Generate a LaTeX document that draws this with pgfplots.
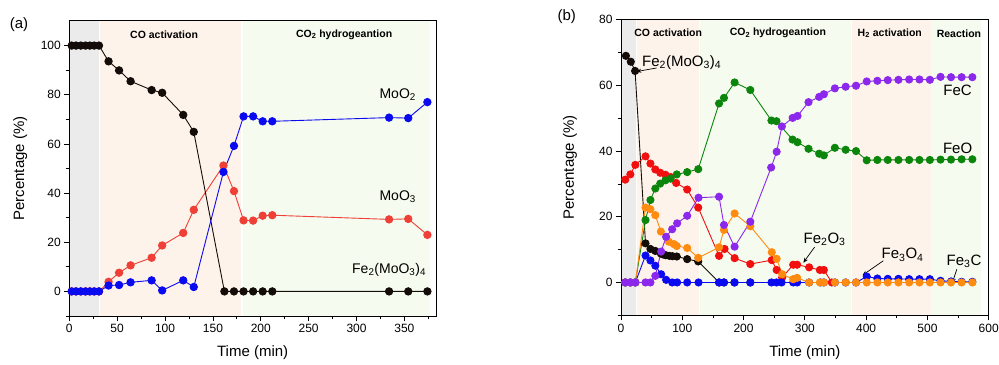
\documentclass[border=0pt]{standalone}
\usepackage{pgfplots}
\pgfplotsset{compat=1.18}
\usepackage{fontspec}
\setmainfont{Liberation Sans}
\usetikzlibrary{arrows.meta}
\definecolor{cgrey}{HTML}{EBEBEB}
\definecolor{cpeach}{HTML}{FEF3EA}
\definecolor{cgreen}{HTML}{F5FBEE}
\definecolor{cblack}{HTML}{140C08}
\definecolor{cblue}{HTML}{0A0AF0}
\definecolor{cred1}{HTML}{EE4036}
\definecolor{cred}{HTML}{F20F0F}
\definecolor{cgreen2}{HTML}{0C850C}
\definecolor{corange}{HTML}{FF8C10}
\definecolor{cpurple}{HTML}{8B28EB}
\pgfplotsset{
  myaxis/.style={
    scale only axis, anchor=south west, axis on top, clip=false,
    axis line style={line width=1bp, black},
    tick style={line width=0.8bp, black},
    tick align=outside, tick pos=left,
    major tick length=5bp, minor tick length=3bp,
    ticklabel style={font=\fontsize{12bp}{14bp}\selectfont},
    /pgf/number format/assume math mode=true,
    label style={font=\fontsize{15bp}{18bp}\selectfont},
    xlabel style={at={(axis description cs:0.5,-0.125)}, anchor=center},
    xlabel={Time (min)}, ylabel={Percentage (\%)},
  },
  ser/.style={color=#1, line width=0.9bp, mark=*, mark size=3.7bp, mark options={fill=#1, draw=#1}},
  ser2/.style={color=#1, line width=0.9bp, mark=*, mark size=3.6bp, mark options={fill=#1, draw=#1}},
}
\newcommand{\reg}{\bfseries\fontsize{10.5bp}{12bp}\selectfont}
\newcommand{\lblA}{\fontsize{14bp}{16bp}\selectfont}
\newcommand{\lblB}{\fontsize{15bp}{17bp}\selectfont}
\begin{document}
\begin{tikzpicture}
\useasboundingbox (0,0) rectangle (999bp,365bp);
\node[font=\fontsize{15bp}{17bp}\selectfont] at (19bp,340bp) {(a)};
\node[font=\fontsize{15bp}{17bp}\selectfont] at (566.7bp,348.3bp) {(b)};
% ---------------- panel (a)
\begin{axis}[myaxis, at={(69.3bp,49bp)}, width=366.7bp, height=295bp,
  xmin=0, xmax=383, ymin=-10, ymax=110,
  xtick={0,50,...,350}, minor xtick={25,75,...,375},
  ytick={0,20,...,100}, minor ytick={-10,10,30,...,90},
  ylabel style={at={(axis description cs:-0.134,0.5)}, anchor=center}]
\fill[cgrey] (axis cs:0,-10) rectangle (axis cs:31.5,110);
\fill[cpeach] (axis cs:32.5,-10) rectangle (axis cs:179.5,110);
\fill[cgreen] (axis cs:181,-10) rectangle (axis cs:377,110);
\addplot[ser=cred1] coordinates {(2.5,0)(7,0)(12,0)(17,0)(21.5,0)(26,0)(31,0)(41,3.9)(52,7.6)(64,10.6)(86,13.7)(97,18.7)(119,23.8)(130,33.2)(161,51.2)(172,40.8)(182,28.9)(192,28.8)(202,30.8)(212,31.0)(334,29.3)(354,29.5)(374,23.0)};
\addplot[ser=cblack] coordinates {(2.5,100)(7,100)(12,100)(17,100)(21.5,100)(26,100)(31,100)(41,93.6)(52,89.9)(64,85.5)(86,81.9)(97,80.8)(119,71.8)(130,64.9)(162,0)(172,0)(182,0)(192,0)(202,0)(212,0)(334,0)(354,0)(374,0)};
\addplot[ser=cblue] coordinates {(2.5,0)(7,0)(12,0)(17,0)(21.5,0)(26,0)(31,0)(41,2.4)(52,2.6)(64,3.7)(86,4.5)(97,0.4)(119,4.5)(130,1.8)(161,48.6)(172,59.2)(182,71.2)(192,71.2)(202,69.2)(212,69.2)(334,70.7)(354,70.5)(374,77.0)};
\node[font=\reg] at (axis cs:99,104.5) {CO activation};
\node[font=\reg] at (axis cs:287,104.5) {CO\textsubscript{2} hydrogeantion};
\node[font=\lblA] at (axis cs:343,80) {MoO\textsubscript{2}};
\node[font=\lblA] at (axis cs:343,38.5) {MoO\textsubscript{3}};
\node[font=\lblA] at (axis cs:334,8.8) {Fe\textsubscript{2}(MoO\textsubscript{3})\textsubscript{4}};
\end{axis}
% ---------------- panel (b)
\begin{axis}[myaxis, at={(621bp,49.7bp)}, width=367.7bp, height=295.6bp,
  xmin=0, xmax=600, ymin=-10, ymax=80,
  xtick={0,100,...,600}, minor xtick={50,150,...,550},
  ytick={0,20,...,80}, minor ytick={-10,10,30,50,70},
  ylabel style={at={(axis description cs:-0.139,0.5)}, anchor=center}]
\fill[cgrey] (axis cs:0,-10) rectangle (axis cs:24.3,80);
\fill[cpeach] (axis cs:25.5,-10) rectangle (axis cs:127.5,80);
\fill[cgreen] (axis cs:129,-10) rectangle (axis cs:375.5,80);
\fill[cpeach] (axis cs:376.5,-10) rectangle (axis cs:505.5,80);
\fill[cgreen] (axis cs:506.5,-10) rectangle (axis cs:587,80);
\addplot[ser2=cblack] coordinates {(8,69.0)(16,67.2)(23,64.4)(40,11.9)(48,10.2)(56,9.6)(65,8.8)(69,8.5)(73,8.3)(79,8.1)(84,8.0)(91,7.9)(108,7.1)(126,6.4)(160,0)(168,0)(185,0)(211,0)};
\addplot[ser2=cred] coordinates {(7,31.3)(15.2,32.9)(23.4,35.8)(40,38.4)(48,36.2)(56,34.4)(64,33.4)(72.5,32.8)(81,32.1)(90,30.3)(108,28.3)(126,22.8)(160,8.1)(169,10.2)(185.4,7.4)(211,5.6)(246,6.8)(254,3.8)(263,1.5)(281,5.4)(287.4,5.4)(307,4.6)(324.5,3.8)(331,3.8)(344,0)};
\addplot[ser2=cgreen2] coordinates {(7,0)(15.2,0)(23.4,0)(40,19.0)(48,25.1)(56,28.6)(64,30.1)(72.5,31.1)(81,31.6)(91,32.9)(108,33.6)(126,34.5)(160,54.5)(168,56.2)(185.4,60.9)(211,58.6)(245.5,49.3)(253.7,49.1)(279.9,43.5)(288,42.7)(306,40.7)(323.4,39.2)(331,38.7)(349,41.0)(366.6,40.4)(383.5,40.0)(401,37.2)(418.3,37.3)(435.3,37.3)(452.7,37.3)(470.2,37.3)(487,37.3)(504,37.3)(521.4,37.4)(538.5,37.4)(555.8,37.5)(573.3,37.5)};
\addplot[ser2=cblue] coordinates {(7,0)(15.2,0)(23.4,0)(40,8.2)(48,6.7)(56,5.1)(65.5,2.5)(73.6,0.8)(83.5,0)(91.6,0)(108,0)(126.5,0)(160,0)(168,0)(185.4,0)(211,0)(245.5,0)(253.7,0)(262,0)(281,0)(287.4,0)(307,0)(325.7,0)(331,0)(349,0)(366.6,0)(383.5,0)(401,1.8)(418.3,1.2)(435.3,1.1)(452.7,1.1)(470.2,1.0)(487,1.0)(504,1.0)(521.4,0.5)(538.5,0.3)(555.8,0.2)(573.3,0.2)};
\addplot[ser2=corange] coordinates {(7,0)(15.2,0)(23.4,0)(40,22.8)(48,22.3)(56,20.5)(65,15.5)(78,12.4)(86,11.7)(91,11.1)(108,10.5)(126,7.5)(160,10.7)(168,16.0)(185.4,21.0)(211,17.1)(246,9.2)(254,7.2)(263,2.5)(281,1.0)(287.4,1.4)(307,0)(324.5,0)(331,0)(349,0)(366.6,0)(383.5,0)(401,0)(418.3,0)(435.3,0)(452.7,0)(470.2,0)(487,0)(504,0)(521.4,0)(538.5,0)(555.8,0)(573.3,0)};
\addplot[ser2=cpurple] coordinates {(7,0)(15.2,0)(23.4,0)(40,0)(48,0)(56,2.0)(65.5,9.4)(73.6,13.9)(83.5,16.2)(91.6,18.0)(108,20.3)(126.5,25.8)(160,26.1)(168,17.5)(185.4,10.9)(211,18.5)(245,35.0)(254,39.8)(262.5,47.5)(280,50.1)(288,50.7)(306,54.9)(323.4,56.5)(331,57.3)(349,59.1)(366.6,59.6)(383.5,59.9)(401,61.2)(418.3,61.4)(435.3,61.6)(452.7,61.7)(470.2,61.8)(487,61.8)(504,61.7)(521.4,62.6)(538.5,62.5)(555.8,62.5)(573.3,62.5)};
\node[font=\reg] at (axis cs:77,76) {CO activation};
\node[font=\reg] at (axis cs:256,76) {CO\textsubscript{2} hydrogeantion};
\node[font=\reg] at (axis cs:438.6,75.9) {H\textsubscript{2} activation};
\node[font=\reg] at (axis cs:551.5,75.6) {Reaction};
\node[font=\lblB] at (axis cs:99,67) {Fe\textsubscript{2}(MoO\textsubscript{3})\textsubscript{4}};
\draw[-{Stealth[length=5bp,width=4bp]}, line width=0.7bp] (axis cs:58,65.3) -- (axis cs:25,64.2);
\node[font=\lblB] at (axis cs:549.3,58.6) {FeC};
\node[font=\lblB] at (axis cs:549.3,40.9) {FeO};
\node[font=\lblB] at (axis cs:332.2,13.1) {Fe\textsubscript{2}O\textsubscript{3}};
\draw[-{Stealth[length=5bp,width=4bp]}, line width=0.7bp] (axis cs:316,10.8) -- (axis cs:297.5,6.0);
\node[font=\lblB] at (axis cs:459.5,8.4) {Fe\textsubscript{3}O\textsubscript{4}};
\draw[-{Stealth[length=5bp,width=4bp]}, line width=0.7bp] (axis cs:428,6.6) -- (axis cs:394,2.2);
\node[font=\lblB] at (axis cs:559.7,6.4) {Fe\textsubscript{3}C};
\draw[-{Stealth[length=5bp,width=4bp]}, line width=0.7bp] (axis cs:548,4.0) -- (axis cs:540.5,-0.2);
\end{axis}
\end{tikzpicture}
\end{document}
